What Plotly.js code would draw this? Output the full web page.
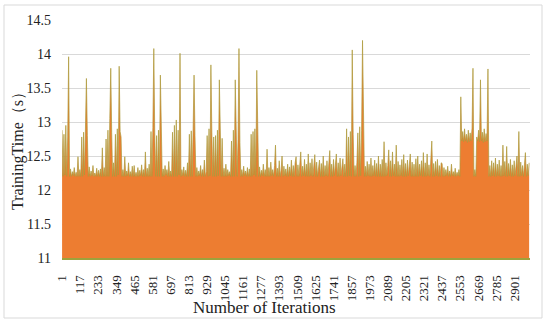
<!DOCTYPE html>
<html>
<head>
<meta charset="utf-8">
<script src="https://cdn.plot.ly/plotly-3.0.1.min.js"></script>
<style>html,body{margin:0;padding:0;background:#fff;}#chart{width:550px;height:325px;}</style>
</head>
<body>
<div id="chart"></div>
<script>
// Training time (s), one reading every 6 iterations
const iterStep = 6;
const firstIteration = 1;
const trainingTime = [
12.88,12.2,12.82,12.22,12.95,12.2,12.78,13.96,12.2,12.31,12.2,12.27,12.21,12.33,12.2,12.26,12.2,12.49,12.2,12.3,
12.2,12.78,12.2,12.85,12.22,12.9,13.64,12.8,12.2,12.34,12.2,12.28,12.21,12.36,12.2,12.25,12.2,12.32,12.2,12.29,
12.2,12.31,12.2,12.62,12.2,12.33,12.2,12.75,12.2,12.88,12.2,13.05,13.79,12.85,12.2,12.4,12.2,12.82,12.2,12.9,
12.22,13.82,12.86,12.78,12.2,12.3,12.2,12.49,12.2,12.28,12.21,12.4,12.2,12.27,12.2,12.35,12.2,12.36,12.2,12.26,
12.2,12.33,12.2,12.29,12.21,12.37,12.2,12.3,12.2,12.56,12.2,12.32,12.2,12.38,12.2,12.86,12.2,12.92,14.08,12.84,
12.2,12.8,12.2,12.88,12.2,13.69,12.75,12.2,12.31,12.2,12.36,12.22,12.3,12.2,12.42,12.2,12.28,12.2,12.85,12.2,
12.95,12.2,13.03,12.2,12.88,12.22,14.01,12.2,12.3,12.21,12.34,12.2,12.29,12.2,12.4,12.2,12.82,12.2,12.87,12.2,
12.9,13.69,12.8,12.2,12.33,12.2,12.28,12.21,12.36,12.2,12.3,12.2,12.44,12.2,12.27,12.8,12.2,12.9,12.21,13.84,
12.85,12.2,12.78,12.2,12.8,12.2,12.88,12.21,13.62,12.83,12.2,12.76,12.2,12.32,12.2,12.38,12.2,12.3,12.21,12.27,
12.2,12.72,12.2,12.88,12.2,13.62,12.78,12.2,12.74,14.08,12.7,12.2,12.3,12.2,12.35,12.21,12.28,12.2,12.33,12.2,
12.31,12.2,12.82,12.2,12.86,12.22,12.9,12.2,13.76,12.8,12.2,12.34,12.2,12.29,12.21,12.38,12.2,12.3,12.2,12.6,
12.2,12.33,12.2,12.41,12.21,12.3,12.2,12.36,12.66,12.2,12.32,12.2,12.43,12.2,12.29,12.5,12.2,12.35,12.21,12.31,
12.2,12.38,12.2,12.34,12.21,12.44,12.2,12.36,12.2,12.4,12.49,12.2,12.37,12.2,12.42,12.56,12.2,12.35,12.21,12.45,
12.2,12.38,12.2,12.53,12.2,12.4,12.21,12.46,12.2,12.36,12.52,12.2,12.41,12.2,12.37,12.44,12.2,12.39,12.2,12.5,
12.2,12.36,12.21,12.43,12.2,12.4,12.58,12.2,12.38,12.2,12.45,12.21,12.36,12.53,12.2,12.4,12.2,12.47,12.21,12.37,
12.46,12.2,12.38,12.2,12.9,12.2,12.78,12.21,12.86,12.2,14.06,12.82,12.2,12.36,12.2,12.4,12.84,12.2,12.93,12.21,
12.88,14.2,12.8,12.2,12.35,12.2,12.42,12.21,12.38,12.2,12.47,12.2,12.36,12.21,12.44,12.2,12.39,12.2,12.5,12.2,
12.38,12.2,12.45,12.2,12.71,12.2,12.4,12.21,12.36,12.59,12.2,12.43,12.2,12.56,12.21,12.38,12.2,12.66,12.2,12.42,
12.2,12.37,12.21,12.45,12.2,12.52,12.2,12.39,12.2,12.44,12.21,12.36,12.53,12.2,12.41,12.2,12.38,12.2,12.46,12.2,
12.5,12.2,12.38,12.21,12.43,12.2,12.55,12.2,12.4,12.2,12.53,12.21,12.37,12.2,12.44,12.72,12.2,12.39,12.2,12.42,
12.21,12.45,12.2,12.36,12.2,12.4,12.39,12.2,12.33,12.2,12.3,12.21,12.35,12.2,12.28,12.2,12.38,12.21,12.27,12.2,
12.32,12.2,12.26,12.21,12.3,12.2,13.37,12.72,12.86,12.71,12.9,12.72,12.82,12.7,12.88,12.71,12.84,12.72,12.91,13.79,
12.2,12.3,12.2,12.78,12.72,12.88,12.71,13.62,12.72,12.85,12.7,12.9,12.71,12.83,12.72,13.78,12.2,12.36,12.2,12.43,
12.21,12.4,12.2,12.47,12.2,12.38,12.21,12.44,12.2,12.36,12.2,12.66,12.21,12.42,12.2,12.64,12.2,12.39,12.21,12.45,
12.2,12.37,12.2,12.43,12.21,12.38,12.5,12.2,12.86,12.2,12.41,12.21,12.36,12.2,12.44,12.55,12.2,12.38,12.21,12.4
];
const tickIterations = [1,117,233,349,465,581,697,813,929,1045,1161,1277,1393,1509,1625,1741,1857,1973,2089,2205,2321,2437,2553,2669,2785,2901];
const yTicks = [11,11.5,12,12.5,13,13.5,14,14.5];
const xTitle = 'Number of Iterations';
const yTitle = 'TrainingTime（s）';

const iterations = trainingTime.map((_, i) => firstIteration + i * iterStep);

const serif = '"Liberation Serif", "Times New Roman", serif';

const trace = {
  x: iterations,
  y: trainingTime,
  type: 'scatter',
  mode: 'lines',
  fill: 'tozeroy',
  fillcolor: '#ED7D31',
  line: {color: '#AC9A3A', width: 0.7},
  hoverinfo: 'skip'
};

const L = 62, R = 530, T = 20, B = 258;
const W = R - L, H = B - T;
const px = x => (x - L) / W;
const py = y => (B - y) / H;

const layout = {
  width: 550, height: 325,
  margin: {l: L, r: 550 - R, t: T, b: 325 - B, pad: 0},
  paper_bgcolor: '#ffffff', plot_bgcolor: '#ffffff',
  showlegend: false,
  font: {family: serif, color: '#222222', size: 13},
  xaxis: {
    type: 'linear', range: [0.5, 3000.5],
    tickmode: 'array', tickvals: tickIterations, ticktext: tickIterations.map(String),
    tickangle: -90, ticks: '', showgrid: false, zeroline: false,
    showline: true, linecolor: '#9DA23C', linewidth: 2,
    tickfont: {family: serif, size: 13, color: '#222222'},
    ticklabelstandoff: 10
  },
  yaxis: {
    range: [11, 14.5], tickmode: 'array', tickvals: yTicks, ticktext: yTicks.map(String),
    ticks: '', showgrid: true, gridcolor: '#D9D9D9', gridwidth: 1, zeroline: false, showline: false,
    tickfont: {family: serif, size: 14, color: '#222222'},
    ticklabelstandoff: 10
  },
  annotations: [
    {text: xTitle, xref: 'paper', yref: 'paper', x: px(264.5), y: py(307), xanchor: 'center', yanchor: 'middle',
     showarrow: false, font: {family: serif, size: 17, color: '#222222'}},
    {text: yTitle, xref: 'paper', yref: 'paper', x: px(18), y: py(147), xanchor: 'center', yanchor: 'middle',
     textangle: -90, showarrow: false, font: {family: serif, size: 16, color: '#222222'}}
  ],
  shapes: [
    {type: 'rect', xref: 'paper', yref: 'paper', x0: px(4), x1: px(542), y0: py(318), y1: py(5),
     line: {color: '#D9D9D9', width: 1}, fillcolor: 'rgba(0,0,0,0)', layer: 'below'}
  ]
};

Plotly.newPlot('chart', [trace], layout, {staticPlot: true, displayModeBar: false});
</script>
</body>
</html>
